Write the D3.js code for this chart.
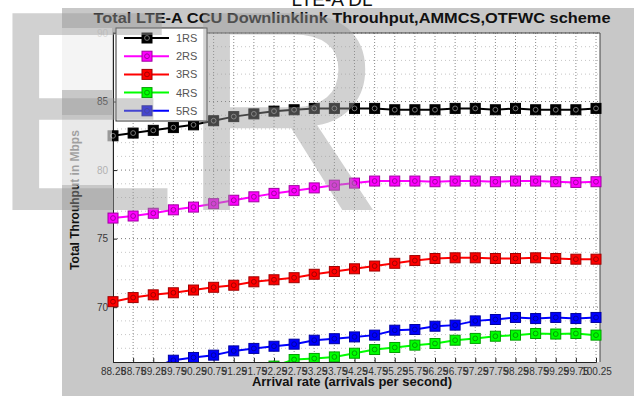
<!DOCTYPE html>
<html>
<head>
<meta charset="utf-8">
<script src="https://cdn.jsdelivr.net/npm/d3@7"></script>
<style>
  body { margin: 0; background: #fff; }
  svg { display: block; font-family: "Liberation Sans", Arial, sans-serif; }
</style>
</head>
<body>
<svg id="chart" width="634" height="396"></svg>
<script>
// Arrival rates (x) and their tick labels
const arrivalRates = [88.25, 88.75, 89.25, 89.75, 90.25, 90.75, 91.25, 91.75, 92.25, 92.75,
  93.25, 93.75, 94.25, 94.75, 95.25, 95.75, 96.25, 96.75, 97.25, 97.75,
  98.25, 98.75, 99.25, 99.75, 100.25];
const xTickLabels = ["88.25", "88.75", "89.25", "89.75", "90.25", "90.75", "91.25", "91.75", "92.25", "92.75",
  "93.25", "93.75", "94.25", "94.75", "95.25", "95.75", "96.25", "96.75", "97.25", "97.75",
  "98.25", "98.75", "99.25", "99.75", "100.25"];
const yTickValues = [70, 75, 80, 85, 90];

// Total throughput (Mbps) per relay-station count
const rs1 = [82.5, 82.7, 82.9, 83.1, 83.3, 83.6, 83.9, 84.1, 84.3, 84.4, 84.5, 84.5, 84.5,
  84.5, 84.4, 84.4, 84.4, 84.5, 84.5, 84.4, 84.5, 84.4, 84.4, 84.4, 84.5];
const rs2 = [76.5, 76.65, 76.85, 77.1, 77.3, 77.55, 77.8, 78.05, 78.3, 78.5, 78.7, 78.9, 79.05,
  79.2, 79.2, 79.2, 79.15, 79.2, 79.2, 79.15, 79.2, 79.2, 79.15, 79.1, 79.15];
const rs3 = [70.4, 70.7, 70.9, 71.05, 71.25, 71.45, 71.6, 71.85, 72.0, 72.15, 72.4, 72.6, 72.8,
  73.0, 73.2, 73.4, 73.55, 73.6, 73.6, 73.55, 73.55, 73.6, 73.55, 73.5, 73.5];
const rs4 = [null, null, null, null, null, null, null, null, 65.7, 66.18, 66.26, 66.37, 66.64,
  66.91, 67.06, 67.23, 67.35, 67.59, 67.72, 67.88, 67.96, 68.08, 68.04, 68.08, 67.96];
const rs5 = [null, null, 65.6, 66.13, 66.33, 66.5, 66.81, 66.99, 67.15, 67.3, 67.59, 67.7, 67.83,
  67.96, 68.32, 68.37, 68.61, 68.69, 69.0, 69.1, 69.25, 69.17, 69.25, 69.17, 69.25];

const seriesNames = ["1RS", "2RS", "3RS", "4RS", "5RS"];
const seriesColors = ["#000000", "#ff00ff", "#ff0000", "#00ff00", "#0000ff"];
const seriesEdges = ["#000000", "#a000a0", "#a00000", "#00a000", "#0000a0"];
const seriesValues = [rs1, rs2, rs3, rs4, rs5];

const svg = d3.select("#chart");
const W = 634, H = 396;
const plot = { left: 113, right: 600, top: 33, bottom: 362 };

const x = d3.scaleLinear().domain([arrivalRates[0], arrivalRates[arrivalRates.length - 1]]).range([plot.left, 596]);
const y = d3.scaleLinear().domain([66, 90]).range([plot.bottom, plot.top]);

// figure background
svg.append("rect").attr("x", 62).attr("y", 8).attr("width", W - 62).attr("height", H - 8).attr("fill", "#c8c8c8");

// clipped-off heading above the figure
svg.append("text").attr("x", 332).attr("y", 6).attr("text-anchor", "middle")
  .attr("font-size", 19).attr("fill", "#111").text("LTE-A DL");

// axes area
svg.append("rect").attr("x", plot.left).attr("y", plot.top)
  .attr("width", plot.right - plot.left).attr("height", plot.bottom - plot.top).attr("fill", "#fff");

const grid = svg.append("g");
// minor horizontal grid every 1 Mbps
grid.selectAll("line.minor").data(d3.range(67, 90).filter(v => v % 5 !== 0)).join("line")
  .attr("x1", plot.left).attr("x2", plot.right).attr("y1", d => y(d)).attr("y2", d => y(d))
  .attr("stroke", "#b8b8b8").attr("stroke-width", 0.8).attr("stroke-dasharray", "1,3");
// major horizontal grid
grid.selectAll("line.major").data(yTickValues).join("line")
  .attr("x1", plot.left).attr("x2", plot.right).attr("y1", d => y(d)).attr("y2", d => y(d))
  .attr("stroke", "#777").attr("stroke-width", 1).attr("stroke-dasharray", "1,3");
// vertical grid at each arrival rate
grid.selectAll("line.v").data(arrivalRates.slice(1)).join("line")
  .attr("x1", d => x(d)).attr("x2", d => x(d)).attr("y1", plot.top).attr("y2", plot.bottom)
  .attr("stroke", "#888").attr("stroke-width", 1).attr("stroke-dasharray", "1,2");

// axes
const xAxis = d3.axisBottom(x).tickValues(arrivalRates)
  .tickFormat((d, i) => xTickLabels[i]).tickSize(-4).tickPadding(6);
const gx = svg.append("g").attr("transform", `translate(0,${plot.bottom})`).call(xAxis);
gx.select(".domain").attr("stroke", "#222");
gx.selectAll(".tick line").attr("stroke", "#222");
gx.selectAll("text").attr("font-size", 10).attr("fill", "#333").attr("font-family", "Liberation Sans, Arial, sans-serif");

const yAxis = d3.axisLeft(y).tickValues(yTickValues).tickSize(-4).tickPadding(5);
const gy = svg.append("g").attr("transform", `translate(${plot.left},0)`).call(yAxis);
gy.select(".domain").attr("stroke", "#222");
gy.selectAll(".tick line").attr("stroke", "#222");
gy.selectAll("text").attr("font-size", 10).attr("fill", "#3a3a3a").attr("font-family", "Liberation Sans, Arial, sans-serif");

// top / right frame
svg.append("line").attr("x1", plot.left).attr("x2", plot.right).attr("y1", plot.top).attr("y2", plot.top).attr("stroke", "#444");
svg.append("line").attr("x1", plot.right).attr("x2", plot.right).attr("y1", plot.top).attr("y2", plot.bottom).attr("stroke", "#444");

// series
svg.append("clipPath").attr("id", "plotClip").append("rect")
  .attr("x", plot.left - 6).attr("y", plot.top).attr("width", plot.right - plot.left + 12).attr("height", plot.bottom - plot.top);
const series = svg.append("g").attr("clip-path", "url(#plotClip)");
const line = d3.line().defined(d => d[1] != null).x(d => x(d[0])).y(d => y(d[1]));

seriesValues.forEach((vals, k) => {
  const pts = arrivalRates.map((r, i) => [r, vals[i]]);
  const g = series.append("g");
  g.append("path").datum(pts).attr("d", line).attr("fill", "none")
    .attr("stroke", seriesColors[k]).attr("stroke-width", 2);
  const valid = pts.filter(p => p[1] != null);
  g.selectAll("rect").data(valid).join("rect")
    .attr("x", d => x(d[0]) - 5).attr("y", d => y(d[1]) - 5).attr("width", 10).attr("height", 10)
    .attr("fill", seriesColors[k]).attr("stroke", seriesEdges[k]).attr("stroke-width", 1);
  g.selectAll("circle").data(valid).join("circle")
    .attr("cx", d => x(d[0])).attr("cy", d => y(d[1])).attr("r", 2.4)
    .attr("fill", "none").attr("stroke", k === 0 ? "#777" : seriesEdges[k]).attr("stroke-width", 1);
});

// legend
const lg = svg.append("g");
lg.append("rect").attr("x", 116).attr("y", 28).attr("width", 91).attr("height", 93)
  .attr("fill", "#fff").attr("stroke", "#333").attr("stroke-width", 1);
seriesNames.forEach((name, k) => {
  const ly = 38 + k * 18.2;
  lg.append("line").attr("x1", 124).attr("x2", 169).attr("y1", ly).attr("y2", ly)
    .attr("stroke", seriesColors[k]).attr("stroke-width", 2);
  lg.append("rect").attr("x", 142).attr("y", ly - 5).attr("width", 10).attr("height", 10)
    .attr("fill", seriesColors[k]).attr("stroke", seriesEdges[k]);
  lg.append("circle").attr("cx", 147).attr("cy", ly).attr("r", 2.4).attr("fill", "none")
    .attr("stroke", k === 0 ? "#777" : seriesEdges[k]);
  lg.append("text").attr("x", 176).attr("y", ly + 4).attr("font-size", 11).attr("fill", "#555").text(name);
});

// titles
svg.append("text").attr("x", 352).attr("y", 23).attr("text-anchor", "middle")
  .attr("font-size", 15).attr("font-weight", "bold").attr("fill", "#111")
  .attr("textLength", 517).attr("lengthAdjust", "spacingAndGlyphs")
  .text("Total LTE-A CCU Downlinklink Throuhput,AMMCS,OTFWC scheme");
svg.append("text").attr("transform", "translate(79,200) rotate(-90)").attr("text-anchor", "middle")
  .attr("font-size", 12).attr("font-weight", "bold").attr("fill", "#111")
  .text("Total Throuhput in Mbps");
svg.append("text").attr("x", 352).attr("y", 386).attr("text-anchor", "middle")
  .attr("font-size", 13).attr("font-weight", "bold").attr("fill", "#111")
  .text("Arrival rate (arrivals per second)");

// watermark lettering
const wm = svg.append("g").attr("pointer-events", "none");
wm.append("rect").attr("x", 40).attr("y", 28).attr("width", 72).attr("height", 62).attr("fill", "#fff").attr("opacity", 0.8);
wm.append("rect").attr("x", 40).attr("y", 115).attr("width", 72).attr("height", 70).attr("fill", "#fff").attr("opacity", 0.6);
wm.append("text").attr("x", -11).attr("y", 210).attr("font-size", 286)
  .attr("font-family", "Liberation Sans, Arial, sans-serif")
  .attr("fill", "#9a9a9a").attr("opacity", 0.45).text("ER");
</script>
</body>
</html>
